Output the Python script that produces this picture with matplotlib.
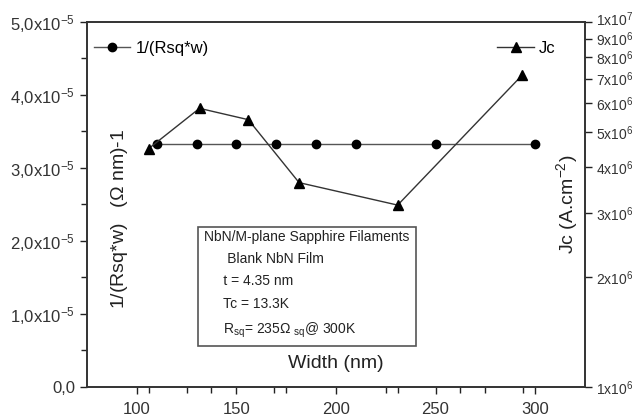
import numpy as np
import matplotlib
matplotlib.use("Agg")
import matplotlib.pyplot as plt
import matplotlib.transforms as mtransforms
from matplotlib.ticker import FixedLocator, FixedFormatter, NullLocator

plt.rcParams['font.family'] = ['Liberation Sans', 'DejaVu Sans']
plt.rcParams['mathtext.fontset'] = 'custom'
plt.rcParams['mathtext.rm'] = 'Liberation Sans'
plt.rcParams['mathtext.it'] = 'Liberation Sans'

# data
width_r = [110, 130, 150, 170, 190, 210, 250, 300]
inv_rsq_w = [3.33e-5] * 8
width_jc = [106, 131.5, 156, 181.5, 231, 293.5]
jc = [4.5e6, 5.8e6, 5.4e6, 3.63e6, 3.15e6, 7.15e6]

xticks = [100, 150, 200, 250, 300]
xminor = [106.25, 125, 137.5, 168.75, 175, 225, 231.25, 262.5, 275, 293.75]
yticks_l = [0, 1e-5, 2e-5, 3e-5, 4e-5, 5e-5]
ylabels_l = ['0,0', r'1,0x10$^{-5}$', r'2,0x10$^{-5}$', r'3,0x10$^{-5}$',
             r'4,0x10$^{-5}$', r'5,0x10$^{-5}$']
yticks_r = [1e6, 2e6, 3e6, 4e6, 5e6, 6e6, 7e6, 8e6, 9e6, 1e7]
ylabels_r = [r'1x10$^{6}$', r'2x10$^{6}$', r'3x10$^{6}$', r'4x10$^{6}$',
             r'5x10$^{6}$', r'6x10$^{6}$', r'7x10$^{6}$', r'8x10$^{6}$',
             r'9x10$^{6}$', r'1x10$^{7}$']

fig = plt.figure(figsize=(6.42, 4.19), dpi=100)
ax = fig.add_axes([0.1355, 0.0764, 0.7755, 0.8711])
ax2 = ax.twinx()

ax.plot(width_r, inv_rsq_w, color='#555555', lw=1, marker='o', ms=6,
        mfc='black', mec='black', label='1/(Rsq*w)')
ax2.plot(width_jc, jc, color='#333333', lw=1, marker='^', ms=7,
         mfc='black', mec='black', label='Jc')

ax.set_xlim(75, 325)
ax.set_ylim(0, 5e-5)
ax2.set_yscale('log')
ax2.set_ylim(1e6, 1e7)

ax.xaxis.set_major_locator(FixedLocator(xticks))
ax.xaxis.set_minor_locator(FixedLocator(xminor))
ax.yaxis.set_major_locator(FixedLocator(yticks_l))
ax.yaxis.set_major_formatter(FixedFormatter(ylabels_l))
ax.yaxis.set_minor_locator(FixedLocator(np.arange(0.5e-5, 5e-5, 1e-5)))
ax2.yaxis.set_major_locator(FixedLocator(yticks_r))
ax2.yaxis.set_major_formatter(FixedFormatter(ylabels_r))
ax2.yaxis.set_minor_locator(NullLocator())

for a in (ax, ax2):
    a.tick_params(which='both', direction='out', labelsize=12, width=1,
                  colors='#222222', labelcolor='#333333')
    a.tick_params(which='major', length=5)
    a.tick_params(which='minor', length=4)
    for s in a.spines.values():
        s.set_color('#333333')
        s.set_linewidth(1.2)
ax.tick_params(axis='x', pad=6)
ax2.tick_params(axis='y', pad=3, labelsize=10)

# nudge the top right label up a little, as in the reference
fig.canvas.draw()
top_lab = ax2.get_yticklabels()[-1]
top_lab.set_transform(top_lab.get_transform() +
                      mtransforms.ScaledTranslation(0, 3 / 72, fig.dpi_scale_trans))

ax.text(0.5, 0.04, 'Width (nm)', transform=ax.transAxes, ha='center',
        va='bottom', fontsize=14, color='#222222')
ax.text(0.065, 0.46, r'1/(Rsq*w)   ($\Omega$ nm)-1', transform=ax.transAxes,
        rotation=90, ha='center', va='center', fontsize=14, color='#222222')
ax.text(0.965, 0.5, r'Jc (A.cm$^{-2}$)', transform=ax.transAxes,
        rotation=90, ha='center', va='center', fontsize=14, color='#222222')

box_lines = ['NbN/M-plane Sapphire Filaments', '      Blank NbN Film',
             '     t = 4.35 nm', '     Tc = 13.3K',
             r'     R$_{sq}$= 235$\Omega$ $_{sq}$@ 300K']
txt = '\n'.join(box_lines)
ax.text(0.235, 0.13, txt, transform=ax.transAxes, ha='left', va='bottom',
        fontsize=10, color='#222222', linespacing=1.75,
        bbox=dict(boxstyle='square,pad=0.45', fc='white', ec='#555555', lw=1.2))

ax.legend(loc='upper left', frameon=False, fontsize=12, handlelength=2.2,
          handletextpad=0.3, borderaxespad=0.3, bbox_to_anchor=(-0.01, 0.98))
ax2.legend(loc='upper right', frameon=False, fontsize=12, handlelength=2.2,
           handletextpad=0.3, borderaxespad=0.3, bbox_to_anchor=(0.965, 0.98))

fig.savefig('out.png', dpi=100)
